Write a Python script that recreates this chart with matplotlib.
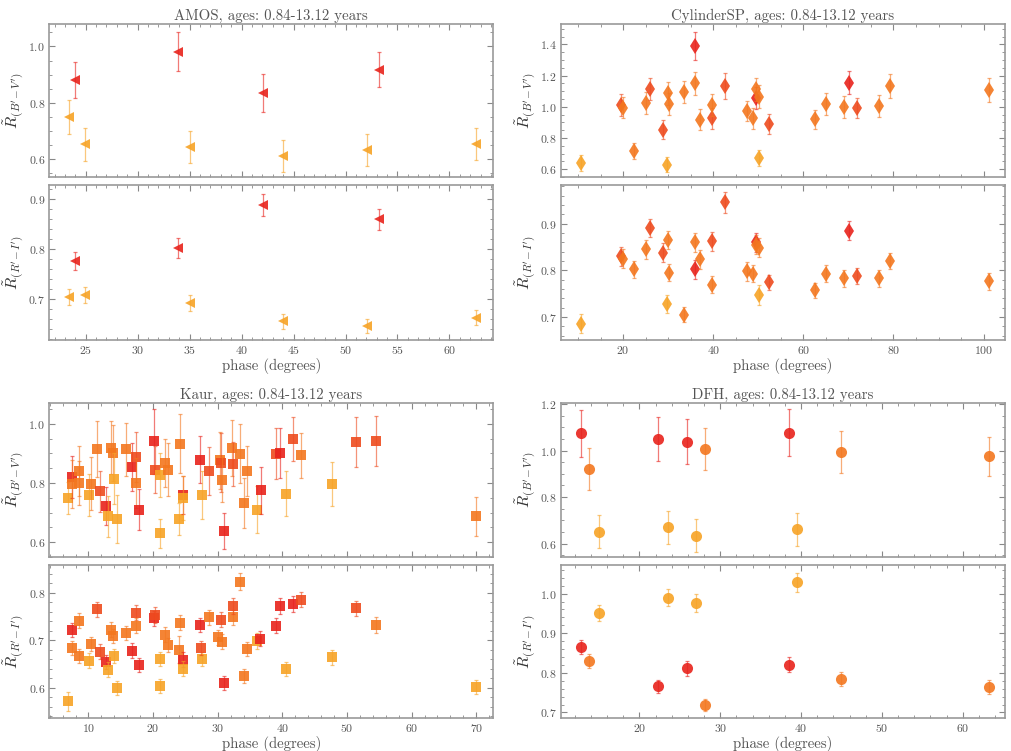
import numpy as np
import matplotlib
matplotlib.use('Agg')
import matplotlib.pyplot as plt
from matplotlib.ticker import AutoMinorLocator, MultipleLocator

plt.rcParams['font.family'] = 'serif'
plt.rcParams['font.serif'] = ['cmr10', 'DejaVu Serif']
plt.rcParams['mathtext.fontset'] = 'cm'
plt.rcParams['axes.formatter.use_mathtext'] = True

# colour levels (by age): red, red-orange, orange, yellow-orange
COLORS = ['#e8231c', '#ee4b1e', '#f3771f', '#f7a326']

# ---- AMOS ----
amos_phase = [24.0, 33.9, 42.1, 53.2, 23.4, 24.9, 35.0, 44.0, 52.1, 62.6]
amos_bv = [0.881, 0.982, 0.835, 0.917, 0.749, 0.651, 0.643, 0.610, 0.632, 0.652]
amos_bv_err = [0.065, 0.07, 0.068, 0.062, 0.06, 0.06, 0.057, 0.057, 0.057, 0.058]
amos_ri = [0.777, 0.802, 0.889, 0.860, 0.704, 0.708, 0.693, 0.656, 0.646, 0.663]
amos_ri_err = [0.018, 0.02, 0.022, 0.021, 0.016, 0.016, 0.016, 0.015, 0.015, 0.015]
amos_col = [0, 0, 0, 0, 3, 3, 3, 3, 3, 3]

# ---- CylinderSP ----
cyl_phase = [10.55, 19.6, 20.0, 22.4, 25.0, 25.9, 28.9, 29.9, 30.1, 29.75,
             33.5, 36.05, 36.05, 37.0, 39.7, 39.75, 42.6, 47.5, 48.8, 49.4,
             49.4, 50.15, 50.1, 52.4, 62.5, 64.95, 69.0, 70.1, 72.0, 76.7,
             79.3, 101.1]
cyl_bv = [0.639, 1.01, 0.995, 0.716, 1.022, 1.112, 0.854, 1.086, 1.015, 0.630,
          1.095, 1.391, 1.15, 0.918, 0.925, 1.011, 1.133, 0.972, 0.925, 1.054,
          1.112, 1.065, 0.673, 0.888, 0.92, 1.017, 1.0, 1.155, 0.994, 1.004,
          1.133, 1.107]
cyl_ri = [0.686, 0.830, 0.825, 0.802, 0.845, 0.891, 0.838, 0.865, 0.795, 0.728,
          0.705, 0.802, 0.860, 0.824, 0.862, 0.769, 0.946, 0.798, 0.793, 0.860,
          0.855, 0.849, 0.747, 0.775, 0.757, 0.793, 0.783, 0.885, 0.788, 0.783,
          0.820, 0.777]
cyl_col = [3, 1, 2, 2, 2, 1, 1, 2, 2, 3,
           2, 0, 2, 2, 1, 2, 1, 2, 2, 0,
           2, 2, 3, 1, 2, 2, 2, 0, 1, 2,
           2, 2]
cyl_bv_err = [0.05, 0.07, 0.07, 0.05, 0.07, 0.07, 0.06, 0.075, 0.07, 0.05,
              0.07, 0.09, 0.075, 0.065, 0.065, 0.07, 0.085, 0.065, 0.065, 0.07,
              0.075, 0.075, 0.05, 0.065, 0.06, 0.07, 0.07, 0.075, 0.065, 0.07,
              0.075, 0.075]
cyl_ri_err = [0.02, 0.02, 0.02, 0.018, 0.02, 0.02, 0.02, 0.02, 0.018, 0.02,
              0.016, 0.02, 0.02, 0.02, 0.02, 0.018, 0.022, 0.02, 0.018, 0.02,
              0.02, 0.02, 0.022, 0.016, 0.016, 0.018, 0.018, 0.02, 0.018, 0.018,
              0.018, 0.018]

# ---- Kaur ----
kaur_phase_bv = [6.9, 7.4, 7.4, 8.55, 8.55, 10.15, 10.35, 11.3, 11.8, 12.7,
                 12.95, 13.5, 13.8, 14.0, 14.4, 15.8, 16.75, 17.3, 17.3, 17.8,
                 20.15, 20.3, 21.0, 21.1, 21.85, 22.3, 24.1, 24.0, 24.6, 24.6,
                 27.3, 27.55, 28.7, 30.4, 30.55, 30.65, 31.0, 32.2, 32.3, 33.4,
                 34.0, 34.5, 36.15, 36.7, 39.0, 39.65, 40.6, 41.6, 42.9, 47.65,
                 51.4, 54.55, 70.0]
kaur_bv = [0.749, 0.820, 0.797, 0.840, 0.800, 0.760, 0.798, 0.915, 0.772, 0.723,
           0.687, 0.919, 0.902, 0.815, 0.678, 0.913, 0.854, 0.888, 0.800, 0.710,
           0.940, 0.845, 0.630, 0.826, 0.868, 0.845, 0.933, 0.678, 0.760, 0.749,
           0.879, 0.760, 0.840, 0.876, 0.868, 0.811, 0.638, 0.919, 0.864, 0.899,
           0.732, 0.840, 0.710, 0.775, 0.899, 0.902, 0.764, 0.949, 0.893, 0.797,
           0.939, 0.941, 0.687]
kaur_bv_err = [0.055, 0.07, 0.08, 0.085, 0.075, 0.07, 0.09, 0.095, 0.07, 0.065,
               0.07, 0.09, 0.095, 0.085, 0.08, 0.09, 0.08, 0.085, 0.085, 0.07,
               0.11, 0.08, 0.05, 0.075, 0.08, 0.09, 0.1, 0.055, 0.065, 0.075,
               0.08, 0.08, 0.08, 0.095, 0.1, 0.075, 0.06, 0.095, 0.075, 0.1,
               0.085, 0.085, 0.08, 0.08, 0.085, 0.085, 0.075, 0.075, 0.075, 0.075,
               0.085, 0.085, 0.065]
kaur_col_bv = [3, 0, 2, 2, 2, 3, 2, 2, 1, 0,
               3, 2, 2, 3, 3, 2, 0, 1, 2, 0,
               0, 1, 3, 3, 2, 2, 2, 3, 0, 3,
               0, 3, 1, 2, 1, 2, 0, 2, 1, 2,
               2, 2, 3, 0, 1, 0, 3, 1, 2, 3,
               1, 1, 2]

kaur_phase_ri = [6.9, 7.4, 7.4, 8.55, 8.55, 10.15, 10.35, 11.3, 11.8, 12.7,
                 12.95, 13.5, 13.8, 14.0, 14.4, 15.8, 16.75, 17.3, 17.3, 17.8,
                 20.15, 20.3, 21.0, 21.1, 21.85, 22.3, 24.1, 24.0, 24.6, 24.6,
                 27.3, 27.55, 27.4, 28.7, 30.1, 30.55, 30.65, 31.0, 32.3, 32.3,
                 33.4, 34.0, 34.6, 36.15, 36.6, 39.05, 39.65, 40.6, 41.6, 42.9,
                 47.65, 51.4, 54.55, 70.0]
kaur_ri = [0.571, 0.722, 0.683, 0.741, 0.667, 0.657, 0.692, 0.765, 0.676, 0.654,
           0.638, 0.722, 0.709, 0.667, 0.599, 0.715, 0.678, 0.758, 0.730, 0.648,
           0.746, 0.753, 0.604, 0.661, 0.711, 0.690, 0.737, 0.680, 0.659, 0.640,
           0.732, 0.660, 0.683, 0.748, 0.706, 0.743, 0.697, 0.610, 0.748, 0.772,
           0.823, 0.624, 0.682, 0.698, 0.703, 0.730, 0.772, 0.639, 0.776, 0.785,
           0.664, 0.767, 0.732, 0.601]
kaur_ri_err = [0.02, 0.015, 0.015, 0.016, 0.015, 0.015, 0.015, 0.016, 0.015, 0.015,
               0.015, 0.016, 0.015, 0.015, 0.015, 0.015, 0.015, 0.016, 0.016, 0.015,
               0.016, 0.016, 0.015, 0.015, 0.016, 0.015, 0.016, 0.028, 0.015, 0.015,
               0.015, 0.015, 0.015, 0.016, 0.016, 0.016, 0.016, 0.015, 0.016, 0.016,
               0.018, 0.015, 0.015, 0.016, 0.016, 0.016, 0.016, 0.015, 0.016, 0.016,
               0.016, 0.016, 0.016, 0.015]
kaur_col_ri = [3, 0, 2, 2, 2, 3, 2, 1, 1, 0,
               3, 2, 2, 3, 3, 2, 0, 1, 2, 0,
               0, 1, 3, 3, 2, 2, 2, 2, 0, 3,
               0, 3, 1, 2, 2, 1, 2, 0, 2, 1,
               2, 2, 2, 3, 0, 0, 0, 3, 0, 1,
               3, 1, 2, 3]

# ---- DFH ----
dfh_phase = [12.8, 13.8, 15.0, 22.35, 23.5, 25.9, 27.0, 28.1, 38.5, 39.5, 45.0, 63.2]
dfh_bv = [1.074, 0.920, 0.651, 1.051, 0.670, 1.039, 0.634, 1.007, 1.077, 0.661, 0.994, 0.975]
dfh_bv_err = [0.1, 0.09, 0.07, 0.095, 0.07, 0.095, 0.07, 0.09, 0.1, 0.07, 0.09, 0.085]
dfh_ri = [0.866, 0.829, 0.952, 0.766, 0.990, 0.811, 0.976, 0.719, 0.821, 1.028, 0.785, 0.764]
dfh_ri_err = [0.018, 0.018, 0.02, 0.016, 0.022, 0.018, 0.022, 0.016, 0.018, 0.024, 0.018, 0.018]
dfh_col = [0, 2, 3, 0, 3, 0, 3, 2, 0, 3, 2, 2]

TITLE = ', ages: 0.84-13.12 years'
YLAB_BV = r"$\tilde{R}_{(B^{\prime}\!-V^{\prime})}$"
YLAB_RI = r"$\tilde{R}_{(R^{\prime}\!-I^{\prime})}$"

fig = plt.figure(figsize=(10.11, 7.51), dpi=100)


def style(ax):
    ax.tick_params(which='both', direction='in', top=True, right=True,
                   color='#888888', labelcolor='#555555', labelsize=8.5, pad=3)
    ax.tick_params(which='major', length=4)
    ax.tick_params(which='minor', length=2)
    ax.xaxis.set_minor_locator(AutoMinorLocator())
    ax.yaxis.set_minor_locator(AutoMinorLocator())
    for s in ax.spines.values():
        s.set_color('#999999')
        s.set_linewidth(1.2)


def draw(ax, x, y, err, cols, marker, ms):
    for xi, yi, ei, ci in zip(x, y, err, cols):
        ax.errorbar(xi, yi, yerr=ei, fmt='none', ecolor=COLORS[ci],
                    elinewidth=0.9, capsize=1.5, capthick=0.9, alpha=0.6)
        ax.plot(xi, yi, marker, color=COLORS[ci], ms=ms, mew=0, alpha=0.9)


def panel(left, bottom_top, bottom_low, h_top, h_low, name, xlim, xmajor,
          ylim_top, ylim_low, ymaj_top, ymaj_low):
    ax1 = fig.add_axes([left, bottom_top, 0.4389, h_top])
    ax2 = fig.add_axes([left, bottom_low, 0.4389, h_low], sharex=ax1)
    for ax in (ax1, ax2):
        style(ax)
    ax1.set_xlim(*xlim)
    ax1.xaxis.set_major_locator(MultipleLocator(xmajor))
    ax1.set_ylim(*ylim_top)
    ax2.set_ylim(*ylim_low)
    ax1.yaxis.set_major_locator(MultipleLocator(ymaj_top))
    ax2.yaxis.set_major_locator(MultipleLocator(ymaj_low))
    ax1.tick_params(labelbottom=False)
    ax1.set_title(name + TITLE, fontsize=10.7, color='#555555', pad=3)
    ax1.set_ylabel(YLAB_BV, fontsize=11.5, color='#333333', labelpad=1)
    ax2.set_ylabel(YLAB_RI, fontsize=11.5, color='#333333', labelpad=1)
    ax2.set_xlabel('phase (degrees)', fontsize=10.7, color='#555555', labelpad=1)
    return ax1, ax2


# AMOS
a1, a2 = panel(0.0488, 0.7643, 0.5473, 0.2037, 0.2064, 'AMOS', (21.5, 64.2), 5,
               (0.535, 1.08), (0.618, 0.929), 0.2, 0.1)
draw(a1, amos_phase, amos_bv, amos_bv_err, amos_col, '<', 7.5)
draw(a2, amos_phase, amos_ri, amos_ri_err, amos_col, '<', 7.5)

# CylinderSP
c1, c2 = panel(0.5549, 0.7643, 0.5473, 0.2037, 0.2064, 'CylinderSP', (6.2, 104.7), 20,
               (0.55, 1.53), (0.651, 0.983), 0.2, 0.1)
draw(c1, cyl_phase, cyl_bv, cyl_bv_err, cyl_col, 'd', 8)
draw(c2, cyl_phase, cyl_ri, cyl_ri_err, cyl_col, 'd', 8)

# Kaur
k1, k2 = panel(0.0488, 0.2583, 0.0439, 0.2051, 0.2037, 'Kaur', (3.95, 72.6), 10,
               (0.55, 1.07), (0.536, 0.858), 0.2, 0.1)
draw(k1, kaur_phase_bv, kaur_bv, kaur_bv_err, kaur_col_bv, 's', 7.5)
draw(k2, kaur_phase_ri, kaur_ri, kaur_ri_err, kaur_col_ri, 's', 7.5)

# DFH
d1, d2 = panel(0.5549, 0.2583, 0.0439, 0.2051, 0.2037, 'DFH', (10.3, 65.2), 10,
               (0.542, 1.205), (0.686, 1.072), 0.2, 0.1)
draw(d1, dfh_phase, dfh_bv, dfh_bv_err, dfh_col, 'o', 8)
draw(d2, dfh_phase, dfh_ri, dfh_ri_err, dfh_col, 'o', 8)

fig.savefig('out.png', dpi=100, facecolor='white')
